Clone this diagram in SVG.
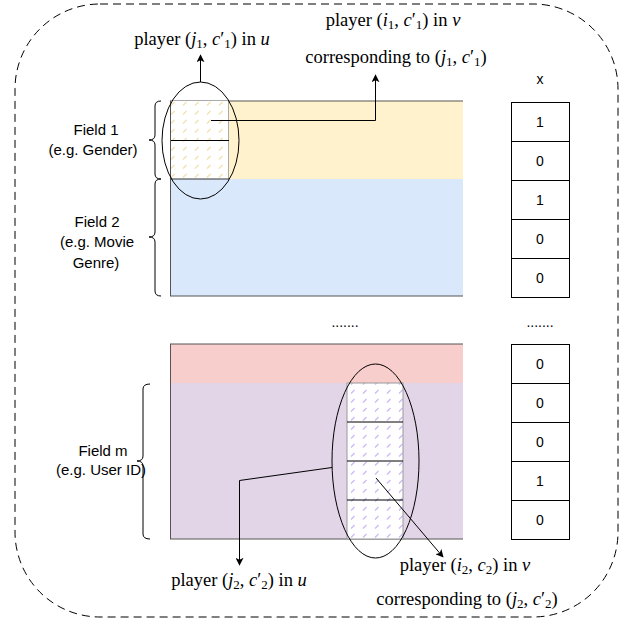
<svg xmlns="http://www.w3.org/2000/svg" width="628" height="629" viewBox="0 0 628 629">
<style>
.lbl{font-family:"Liberation Sans",Arial,sans-serif;font-size:15px;fill:#000;text-anchor:middle}
.num{font-family:"Liberation Sans",Arial,sans-serif;font-size:14px;fill:#000;text-anchor:middle}
.math{font-family:"Liberation Serif","Times New Roman",serif;font-size:18.5px;fill:#000;text-anchor:middle}
.it{font-style:italic}
.sub{font-size:13px}
.edge{fill:none;stroke:#000;stroke-width:1}
.brace{fill:none;stroke:#000;stroke-width:1}
.border{stroke:#555;stroke-width:1;fill:none}
.cell{fill:#fff;stroke:#000;stroke-width:1}
.div{stroke:#000;stroke-width:1}
</style>
<defs>
<marker id="arr" viewBox="0 0 10 10" refX="9" refY="5" markerWidth="8" markerHeight="8" markerUnits="userSpaceOnUse" orient="auto">
<path d="M0,0 L10,5 L0,10 L2.5,5 Z" fill="#000"/>
</marker>
<pattern id="hy" width="12" height="9" patternUnits="userSpaceOnUse">
<rect width="12" height="9" fill="#fff"/>
<line x1="3" y1="6.5" x2="6.5" y2="3" stroke="#f2dfae" stroke-width="1.2"/>
</pattern>
<pattern id="hp" width="12" height="9" patternUnits="userSpaceOnUse">
<rect width="12" height="9" fill="#fff"/>
<line x1="3" y1="6.5" x2="6.5" y2="3" stroke="#cdb8f4" stroke-width="1.2"/>
</pattern>
</defs>

<rect x="15" y="4" width="603" height="613" rx="85" ry="85" fill="none" stroke="#000" stroke-dasharray="8 5"/>

<g id="matrix-top">
<rect x="170" y="101" width="293" height="78" fill="#fff2cc"/>
<rect x="170" y="179" width="293" height="117" fill="#dae8fc"/>
<line class="border" x1="170" y1="101" x2="463" y2="101"/>
<line class="border" x1="170" y1="296" x2="463" y2="296"/>
<line class="border" x1="170.5" y1="101" x2="170.5" y2="296"/>
</g>

<g id="cells-top">
<rect x="171" y="101" width="57" height="78" fill="url(#hy)"/>
<line x1="228.5" y1="101" x2="228.5" y2="179" stroke="#aaa"/>
<line class="div" x1="171" y1="140.5" x2="229" y2="140.5"/>
<line x1="171" y1="179" x2="229" y2="179" stroke="#333"/>
</g>

<g id="matrix-bottom">
<rect x="170" y="344" width="293" height="39" fill="#f8cecc"/>
<rect x="170" y="383" width="293" height="156" fill="#e1d5e7"/>
<line class="border" x1="170" y1="344" x2="463" y2="344"/>
<line class="border" x1="170" y1="539" x2="463" y2="539"/>
<line class="border" x1="170.5" y1="344" x2="170.5" y2="539"/>
</g>

<g id="cells-bottom">
<rect x="347" y="383" width="56" height="156" fill="url(#hp)" stroke="#999"/>
<line class="div" x1="347" y1="422" x2="403" y2="422"/>
<line class="div" x1="347" y1="461" x2="403" y2="461"/>
<line class="div" x1="347" y1="500" x2="403" y2="500"/>
</g>

<g id="ellipse-top"><ellipse cx="200.5" cy="140.5" rx="38.5" ry="58.5" fill="none" stroke="#000"/></g>
<g id="ellipse-bottom"><ellipse cx="375.5" cy="461" rx="43.5" ry="97" fill="none" stroke="#000"/></g>

<g id="braces">
<path class="brace" d="M161,101 Q155,101 155,106 L155,135 Q155,140 149,140 Q155,140 155,145 L155,174 Q155,179 161,179"/>
<path class="brace" d="M161,179 Q155,179 155,184 L155,232 Q155,237 149,237 Q155,237 155,242 L155,291 Q155,296 161,296"/>
<path class="brace" d="M150,384 Q143,384 143,389 L143,456 Q143,461 137,461 Q143,461 143,466 L143,534 Q143,539 150,539"/>
</g>

<g id="field-labels">
<text class="lbl" x="96" y="135">Field 1</text>
<text class="lbl" x="93" y="155">(e.g. Gender)</text>
<text class="lbl" x="97" y="227">Field 2</text>
<text class="lbl" x="97" y="247">(e.g. Movie</text>
<text class="lbl" x="96" y="268">Genre)</text>
<text class="lbl" x="103" y="456">Field m</text>
<text class="lbl" x="101" y="475">(e.g. User ID)</text>
</g>

<g id="x-col-top">
<text class="num" x="540" y="84">x</text>
<rect class="cell" x="511.5" y="102.5" width="58" height="39"/>
<rect class="cell" x="511.5" y="141.5" width="58" height="39"/>
<rect class="cell" x="511.5" y="180.5" width="58" height="39"/>
<rect class="cell" x="511.5" y="219.5" width="58" height="39"/>
<rect class="cell" x="511.5" y="258.5" width="58" height="39"/>
<text class="num" x="540" y="127">1</text>
<text class="num" x="540" y="166">0</text>
<text class="num" x="540" y="205">1</text>
<text class="num" x="540" y="244">0</text>
<text class="num" x="540" y="283">0</text>
</g>

<g id="x-col-bottom">
<rect class="cell" x="511.5" y="344.5" width="58" height="39"/>
<rect class="cell" x="511.5" y="383.5" width="58" height="39"/>
<rect class="cell" x="511.5" y="422.5" width="58" height="39"/>
<rect class="cell" x="511.5" y="461.5" width="58" height="39"/>
<rect class="cell" x="511.5" y="500.5" width="58" height="39"/>
<text class="num" x="540" y="369">0</text>
<text class="num" x="540" y="408">0</text>
<text class="num" x="540" y="447">0</text>
<text class="num" x="540" y="486">1</text>
<text class="num" x="540" y="525">0</text>
</g>

<g id="ellipsis">
<text class="num" x="345" y="327">.......</text>
<text class="num" x="540" y="327">.......</text>
</g>

<g id="connectors">
<path class="edge" d="M200.5,82 L200.5,55" marker-end="url(#arr)"/>
<path class="edge" d="M211,120.5 L375.5,120.5 L375.5,75" marker-end="url(#arr)"/>
<path class="edge" d="M332,467.5 L239.5,480.5 L239.5,565" marker-end="url(#arr)"/>
<path class="edge" d="M376,478 L443,557" marker-end="url(#arr)"/>
</g>

<g id="math-labels">
<text class="math" x="202" y="45">player (<tspan class="it">j</tspan><tspan class="sub" dy="3">1</tspan><tspan dy="-3">, </tspan><tspan class="it">c</tspan>′<tspan class="sub" dy="3">1</tspan><tspan dy="-3">) in </tspan><tspan class="it">u</tspan></text>
<text class="math" x="393" y="26">player (<tspan class="it">i</tspan><tspan class="sub" dy="3">1</tspan><tspan dy="-3">, </tspan><tspan class="it">c</tspan>′<tspan class="sub" dy="3">1</tspan><tspan dy="-3">) in </tspan><tspan class="it">v</tspan></text>
<text class="math" x="396" y="63">corresponding to (<tspan class="it">j</tspan><tspan class="sub" dy="3">1</tspan><tspan dy="-3">, </tspan><tspan class="it">c</tspan>′<tspan class="sub" dy="3">1</tspan><tspan dy="-3">)</tspan></text>
<text class="math" x="239" y="586">player (<tspan class="it">j</tspan><tspan class="sub" dy="3">2</tspan><tspan dy="-3">, </tspan><tspan class="it">c</tspan>′<tspan class="sub" dy="3">2</tspan><tspan dy="-3">) in </tspan><tspan class="it">u</tspan></text>
<text class="math" x="465" y="571">player (<tspan class="it">i</tspan><tspan class="sub" dy="3">2</tspan><tspan dy="-3">, </tspan><tspan class="it">c</tspan><tspan class="sub" dy="3">2</tspan><tspan dy="-3">) in </tspan><tspan class="it">v</tspan></text>
<text class="math" x="467" y="605">corresponding to (<tspan class="it">j</tspan><tspan class="sub" dy="3">2</tspan><tspan dy="-3">, </tspan><tspan class="it">c</tspan>′<tspan class="sub" dy="3">2</tspan><tspan dy="-3">)</tspan></text>
</g>
</svg>
